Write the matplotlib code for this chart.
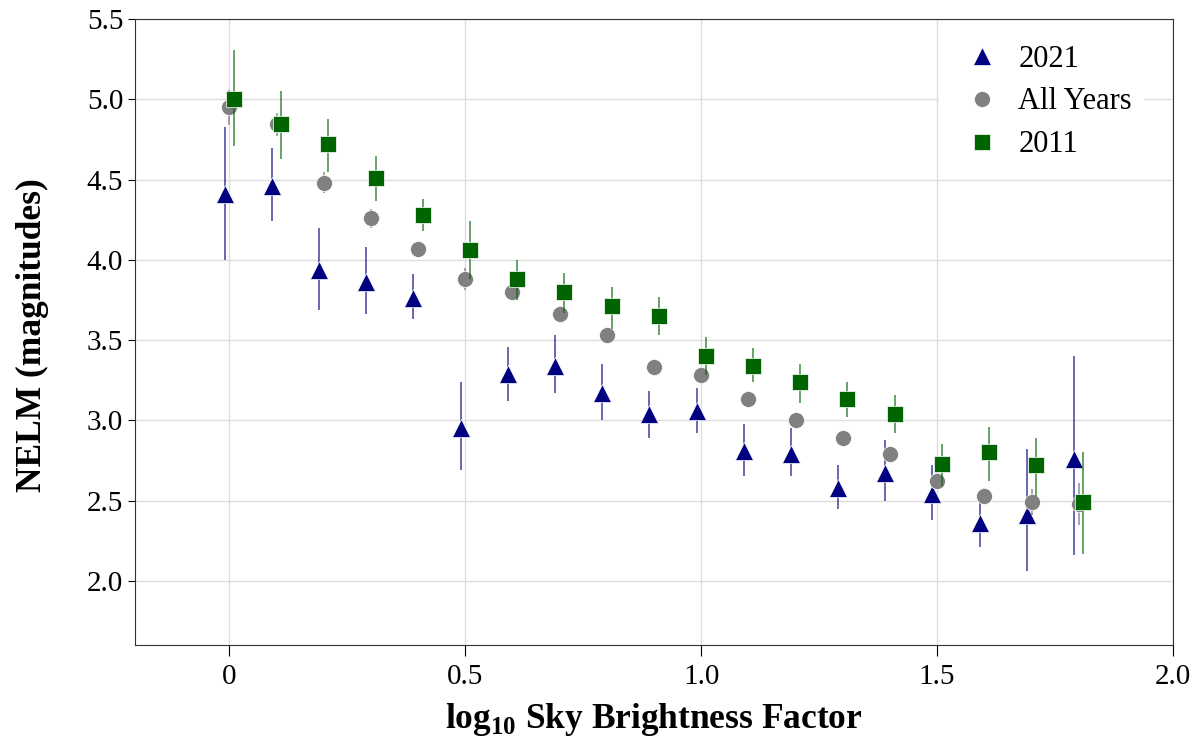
import numpy as np
import matplotlib.pyplot as plt

plt.rcParams['font.family'] = ['Liberation Serif', 'DejaVu Serif']
plt.rcParams['mathtext.fontset'] = 'custom'
plt.rcParams['mathtext.rm'] = 'Liberation Serif'
plt.rcParams['mathtext.bf'] = 'Liberation Serif:bold'

# log10 sky brightness bins
x_bins = np.arange(19) * 0.1

# 2021
nelm_2021 = [4.41, 4.46, 3.94, 3.86, 3.76, 2.95, 3.29, 3.34, 3.17, 3.04,
             3.06, 2.81, 2.79, 2.58, 2.67, 2.54, 2.36, 2.41, 2.76]
lo_2021 = [4.00, 4.24, 3.69, 3.66, 3.63, 2.69, 3.12, 3.17, 3.00, 2.89,
           2.92, 2.655, 2.655, 2.45, 2.50, 2.38, 2.21, 2.06, 2.16]
hi_2021 = [4.83, 4.70, 4.20, 4.08, 3.91, 3.24, 3.455, 3.53, 3.35, 3.185,
           3.20, 2.98, 2.95, 2.72, 2.88, 2.72, 2.50, 2.82, 3.40]

# all years
nelm_all = [4.95, 4.845, 4.48, 4.26, 4.07, 3.88, 3.80, 3.66, 3.53, 3.33,
            3.28, 3.13, 3.00, 2.89, 2.79, 2.62, 2.53, 2.49, 2.48]
err_all = [0.11, 0.07, 0.065, 0.06, 0.04, 0.07, 0.05, 0.05, 0.04, 0.04,
           0.04, 0.04, 0.04, 0.04, 0.04, 0.05, 0.05, 0.08, 0.13]

# 2011
nelm_2011 = [5.00, 4.845, 4.72, 4.51, 4.28, 4.06, 3.88, 3.80, 3.71, 3.65,
             3.40, 3.34, 3.24, 3.13, 3.04, 2.73, 2.80, 2.72, 2.49]
lo_2011 = [4.71, 4.63, 4.55, 4.37, 4.18, 3.88, 3.75, 3.67, 3.57, 3.53,
           3.28, 3.24, 3.11, 3.02, 2.92, 2.59, 2.62, 2.53, 2.17]
hi_2011 = [5.31, 5.05, 4.88, 4.65, 4.38, 4.24, 4.00, 3.92, 3.83, 3.77,
           3.52, 3.45, 3.35, 3.24, 3.155, 2.855, 2.96, 2.89, 2.80]

c21, call, c11 = '#000080', '#808080', '#006400'

fig = plt.figure(figsize=(11.97, 7.38), dpi=100)
ax = fig.add_axes([0.1128, 0.126, 0.8672, 0.848])

x21 = x_bins - 0.01
x11 = x_bins + 0.01
n21 = np.array(nelm_2021)
n11 = np.array(nelm_2011)

ax.errorbar(x21, n21, yerr=[n21 - np.array(lo_2021), np.array(hi_2021) - n21],
            fmt='none', ecolor=c21, elinewidth=1.1, alpha=0.75, zorder=2)
ax.plot(x21, n21, '^', color=c21, ms=13, mec='white', mew=0.5, label='2021', zorder=3)

ax.errorbar(x_bins, nelm_all, yerr=err_all, fmt='none', ecolor=call,
            elinewidth=1.1, alpha=0.9, zorder=4)
ax.plot(x_bins, nelm_all, 'o', color=call, ms=11.5, mec='white', mew=0.5,
        label='All Years', zorder=5)

ax.errorbar(x11, n11, yerr=[n11 - np.array(lo_2011), np.array(hi_2011) - n11],
            fmt='none', ecolor=c11, elinewidth=1.1, alpha=0.75, zorder=6)
ax.plot(x11, n11, 's', color=c11, ms=11.5, mec='white', mew=0.5, label='2011', zorder=7)

ax.set_xlim(-0.2, 2.0)
ax.set_ylim(1.6, 5.5)
ax.set_xticks([0, 0.5, 1.0, 1.5, 2.0])
ax.set_xticklabels(['0', '0.5', '1.0', '1.5', '2.0'])
ax.set_yticks([2.0, 2.5, 3.0, 3.5, 4.0, 4.5, 5.0, 5.5])
ax.set_yticklabels(['2.0', '2.5', '3.0', '3.5', '4.0', '4.5', '5.0', '5.5'])
ax.tick_params(axis='both', labelsize=21, direction='out')
ax.tick_params(axis='x', length=8, pad=6)
ax.tick_params(axis='y', length=5)
ax.grid(True, color='#dddddd', linewidth=1)
ax.set_axisbelow(True)
for s in ax.spines.values():
    s.set_color('#333333')

ax.set_xlabel(r'log$_{\mathbf{10}}$ Sky Brightness Factor', fontsize=25.5,
              fontweight='bold')
ax.xaxis.set_label_coords(0.5, -0.09)
ax.set_ylabel('NELM (magnitudes)', fontsize=25.5, fontweight='bold')
ax.yaxis.set_label_coords(-0.083, 0.495)

leg = ax.legend(loc='upper right', fontsize=22, frameon=True, edgecolor='none',
                framealpha=1, handletextpad=0.2, borderaxespad=0.6,
                labelspacing=0.45, bbox_to_anchor=(0.99, 1.008))

plt.savefig('out.png', dpi=100)
plt.close()
